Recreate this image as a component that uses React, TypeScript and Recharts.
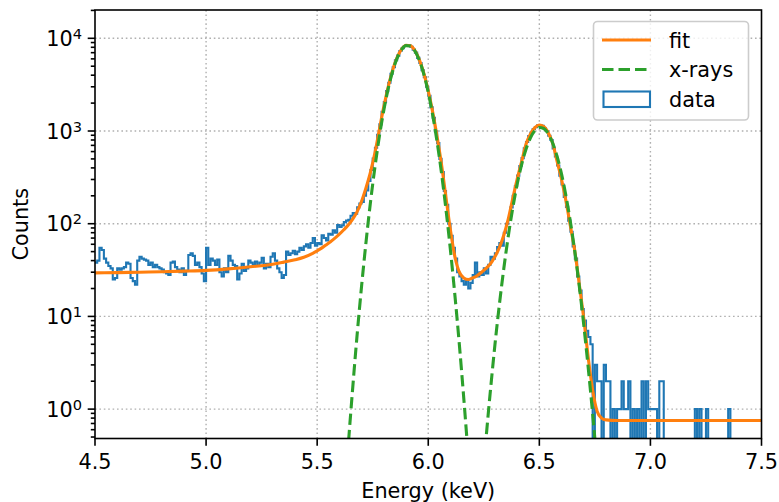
import React from "react";
import { ComposedChart, Line, XAxis, YAxis, ReferenceLine } from "recharts";

// histogram: 0.01 keV bins starting at 4.50 keV
const BIN_START = 4.5;
const BIN_WIDTH = 0.01;

// 4.50 - 4.99 keV
const countsFlat1 = [
  38, 40, 55, 52, 42, 38, 35, 33, 25, 26,
  33, 32, 33, 34, 38, 37, 26, 24, 22, 40,
  44, 42, 41, 40, 36, 38, 34, 36, 34, 33,
  32, 30, 29, 28, 38, 39, 34, 32, 30, 33,
  28, 31, 46, 48, 45, 36, 38, 34, 29, 24,
];

// 5.00 - 5.49 keV
const countsFlat2 = [
  55, 36, 42, 40, 36, 41, 30, 27, 33, 30,
  45, 40, 36, 35, 25, 29, 37, 31, 33, 40,
  38, 36, 39, 35, 38, 43, 33, 37, 34, 44,
  48, 40, 33, 30, 26, 28, 50, 46, 48, 51,
  47, 50, 55, 52, 57, 60, 55, 62, 70, 58,
];

// 5.50 - 6.09 keV (K-alpha)
const countsKa = [
  62, 60, 75, 70, 66, 78, 76, 85, 80, 97,
  92, 96, 104, 108, 110, 122, 130, 128, 150, 165,
  172, 200, 228, 290, 380, 505, 660, 910, 1180, 1610,
  2050, 2690, 3320, 4150, 4880, 5800, 6500, 7300, 7800, 8250,
  8380, 8420, 8080, 7550, 7000, 6150, 5420, 4520, 3800, 3000,
  2400, 1800, 1390, 990, 740, 500, 360, 225, 160, 100,
];

// 6.10 - 6.69 keV (valley + K-beta)
const countsKb = [
  74, 55, 42, 30, 27, 24, 22, 25, 20, 23,
  28, 38, 27, 30, 28, 33, 29, 36, 44, 42,
  48, 56, 62, 58, 80, 100, 115, 150, 200, 255,
  330, 420, 510, 650, 760, 880, 960, 1050, 1100, 1150,
  1150, 1140, 1070, 1000, 890, 800, 650, 530, 425, 330,
  265, 195, 152, 108, 82, 57, 42, 27, 19, 12,
];

// 6.70 - 7.49 keV
const countsTail = [
  9, 7, 6, 5, 0, 3, 2, 2, 0, 3,
  2, 2, 0, 1, 0, 1, 1, 2, 1, 1,
  2, 0, 1, 0, 1, 0, 2, 0, 2, 1,
  1, 1, 1, 0, 2, 2, 0, 0, 0, 0,
  0, 0, 0, 0, 0, 0, 0, 0, 0, 0,
  1, 0, 1, 0, 0, 1, 0, 0, 0, 0,
  0, 0, 0, 0, 0, 1, 0, 0, 0, 0,
  0, 0, 0, 0, 0, 0, 0, 0, 0, 0,
];

const fitEnergy = [
  4.5, 4.6, 4.7, 4.8, 4.9, 5.0, 5.1, 5.2, 5.3, 5.35, 5.4, 5.44, 5.48,
  5.5, 5.52, 5.54, 5.56, 5.58, 5.6, 5.62, 5.64, 5.66, 5.68, 5.7, 5.72, 5.74,
  5.76, 5.78, 5.8, 5.82, 5.84, 5.86, 5.88, 5.9, 5.92, 5.94, 5.96, 5.98,
  6.0, 6.02, 6.04, 6.06, 6.08, 6.1, 6.12, 6.14, 6.16, 6.18, 6.2, 6.22,
  6.24, 6.26, 6.28, 6.3, 6.32, 6.34, 6.36, 6.38, 6.4, 6.42, 6.44, 6.46,
  6.48, 6.5, 6.52, 6.54, 6.56, 6.58, 6.6, 6.62, 6.64, 6.66, 6.68, 6.7,
  6.72, 6.74, 6.76, 6.78, 6.8, 6.85, 7.5,
];
const fitCounts = [
  29.5, 29.7, 30.0, 30.3, 30.8, 31.4, 32.6, 34.3, 36.5, 38.5, 40.8, 43.5, 48,
  51, 54.5, 59, 64, 70, 77, 86, 97, 112, 135, 175, 245, 360,
  580, 1040, 1830, 3020, 4560, 6220, 7640, 8410, 8300, 7360, 5860, 4200,
  2720, 1600, 860, 430, 190, 85, 44, 30, 26, 25, 26, 27.5,
  30, 33, 37, 44, 55, 75, 112, 185, 300, 465, 720, 930,
  1090, 1160, 1120, 960, 740, 470, 300, 175, 94, 50, 22, 9.5,
  3.6, 1.6, 0.95, 0.8, 0.765, 0.753, 0.753,
];

const xrayEnergy = [
  5.6, 5.62, 5.64, 5.66, 5.68, 5.7, 5.72, 5.74, 5.76, 5.78, 5.8, 5.82,
  5.84, 5.86, 5.88, 5.9, 5.92, 5.94, 5.96, 5.98, 6.0, 6.02, 6.04, 6.06,
  6.08, 6.1, 6.12, 6.14, 6.16, 6.18, 6.2, 6.22, 6.24, 6.26, 6.28, 6.3,
  6.32, 6.34, 6.36, 6.38, 6.4, 6.42, 6.44, 6.46, 6.48, 6.5, 6.52, 6.54,
  6.56, 6.58, 6.6, 6.62, 6.64, 6.66, 6.68, 6.7, 6.72, 6.74, 6.76, 6.78,
];
const xrayCounts = [
  0.017, 0.089, 0.41, 1.7, 6.4, 21.3, 63.7, 171, 408, 875, 1679, 2886,
  4443, 6120, 7551, 8337, 8245, 7305, 5790, 4111, 2614, 1486, 758, 346,
  141, 51.6, 16.9, 4.97, 1.3, 0.31, 0.072, 0.043, 0.128, 0.48, 1.6, 4.9,
  13.3, 32.7, 72.8, 146, 265, 432, 636, 845, 1012, 1093, 1065, 936,
  743, 531, 343, 199, 104, 49.5, 21.1, 8.1, 2.8, 0.89, 0.25, 0.063,
];

const xTicks = [4.5, 5.0, 5.5, 6.0, 6.5, 7.0, 7.5];
const xGrid = [5.0, 5.5, 6.0, 6.5, 7.0];
const yMajor = [1, 10, 100, 1000, 10000];
const yMinor = [
  0.5, 0.6, 0.7, 0.8, 0.9,
  2, 3, 4, 5, 6, 7, 8, 9,
  20, 30, 40, 50, 60, 70, 80, 90,
  200, 300, 400, 500, 600, 700, 800, 900,
  2000, 3000, 4000, 5000, 6000, 7000, 8000, 9000, 20000,
];

// empty bins sit below the axis on a log scale
const ZERO_FLOOR = 0.1;

const binCounts = [...countsFlat1, ...countsFlat2, ...countsKa, ...countsKb, ...countsTail];
const histData = binCounts.map((c, i) => ({
  x: Math.round((BIN_START + i * BIN_WIDTH) * 100) / 100,
  y: c > 0 ? c : ZERO_FLOOR,
}));
histData.push({ x: 7.5, y: histData[histData.length - 1].y });

const fitData = fitEnergy.map((x, i) => ({ x, y: fitCounts[i] }));
const xrayData = xrayEnergy.map((x, i) => ({ x, y: xrayCounts[i] }));

const FONT = "DejaVu Sans";
const BLUE = "#1f77b4";
const ORANGE = "#ff7f0e";
const GREEN = "#2ca02c";
const AXIS_X = 95;

function YTick(props: any) {
  const { y, payload } = props;
  const v = payload.value;
  const major = yMajor.includes(v);
  const len = major ? 7.3 : 4.2;
  return (
    <g>
      <line x1={AXIS_X - len} x2={AXIS_X} y1={y} y2={y} stroke="#000" strokeWidth={1.6} />
      {major && (
        <text x={82} y={y + 7.5} textAnchor="end" fontSize={20.8} fontFamily={FONT} fill="#000">
          <tspan>10</tspan>
          <tspan dy={-7} fontSize={14.6}>{Math.round(Math.log10(v))}</tspan>
        </text>
      )}
    </g>
  );
}

function XTick(props: any) {
  const { x, payload } = props;
  return (
    <text x={x} y={469} textAnchor="middle" fontSize={20.8} fontFamily={FONT} fill="#000">
      {payload.value.toFixed(1)}
    </text>
  );
}

export default function App() {
  return (
    <div style={{ position: "absolute", left: 0, top: 0, width: 779, height: 502, background: "#fff" }}>
      <ComposedChart width={779} height={502} margin={{ top: 10, right: 17.5, bottom: 13.5, left: 15 }}>
        <XAxis
          dataKey="x"
          type="number"
          domain={[4.5, 7.5]}
          allowDataOverflow
          ticks={xTicks}
          interval={0}
          height={50}
          axisLine={false}
          tickLine={{ stroke: "#000", strokeWidth: 1.6 }}
          tickSize={7.3}
          tick={<XTick />}
        />
        <YAxis
          type="number"
          scale="log"
          domain={[0.482, 20200]}
          allowDataOverflow
          ticks={[...yMajor, ...yMinor]}
          interval={0}
          width={80}
          axisLine={false}
          tickLine={false}
          tick={<YTick />}
        />
        {xGrid.map((v) => (
          <ReferenceLine key={"gx" + v} x={v} stroke="#b0b0b0" strokeWidth={1.4} strokeDasharray="1.6 2.8" />
        ))}
        {yMajor.map((v) => (
          <ReferenceLine key={"gy" + v} y={v} stroke="#b0b0b0" strokeWidth={1.4} strokeDasharray="1.6 2.8" />
        ))}
        <Line
          data={histData}
          dataKey="y"
          type="stepAfter"
          stroke={BLUE}
          strokeWidth={2.1}
          dot={false}
          activeDot={false}
          isAnimationActive={false}
        />
        <Line
          data={fitData}
          dataKey="y"
          type="monotone"
          stroke={ORANGE}
          strokeWidth={3.1}
          dot={false}
          activeDot={false}
          isAnimationActive={false}
        />
        <Line
          data={xrayData}
          dataKey="y"
          type="monotone"
          stroke={GREEN}
          strokeWidth={3.1}
          strokeDasharray="11.5 5"
          dot={false}
          activeDot={false}
          isAnimationActive={false}
        />
      </ComposedChart>
      <svg
        width={779}
        height={502}
        style={{ position: "absolute", left: 0, top: 0, pointerEvents: "none" }}
        fontFamily={FONT}
      >
        <rect x={95} y={10} width={666.5} height={428.5} fill="none" stroke="#000" strokeWidth={1.6} />
        <text x={428.25} y={498} textAnchor="middle" fontSize={20.8} fill="#000">
          Energy (keV)
        </text>
        <text x={28.3} y={224.25} textAnchor="middle" fontSize={20.8} fill="#000" transform="rotate(-90 28.3 224.25)">
          Counts
        </text>
        <g>
          <rect x={593.5} y={21.5} width={155} height={98.5} rx={4} fill="#fff" fillOpacity={0.8} stroke="#cccccc" strokeWidth={1.6} />
          <line x1={602} x2={651} y1={40} y2={40} stroke={ORANGE} strokeWidth={3.1} />
          <text x={669} y={47.5} fontSize={20.8} fill="#000">fit</text>
          <line x1={602} x2={651} y1={69.5} y2={69.5} stroke={GREEN} strokeWidth={3.1} strokeDasharray="11.5 5" />
          <text x={669} y={77} fontSize={20.8} fill="#000">x-rays</text>
          <rect x={603.5} y={91.5} width={46.5} height={15.5} fill="none" stroke={BLUE} strokeWidth={2.1} />
          <text x={669} y={106.5} fontSize={20.8} fill="#000">data</text>
        </g>
      </svg>
    </div>
  );
}
